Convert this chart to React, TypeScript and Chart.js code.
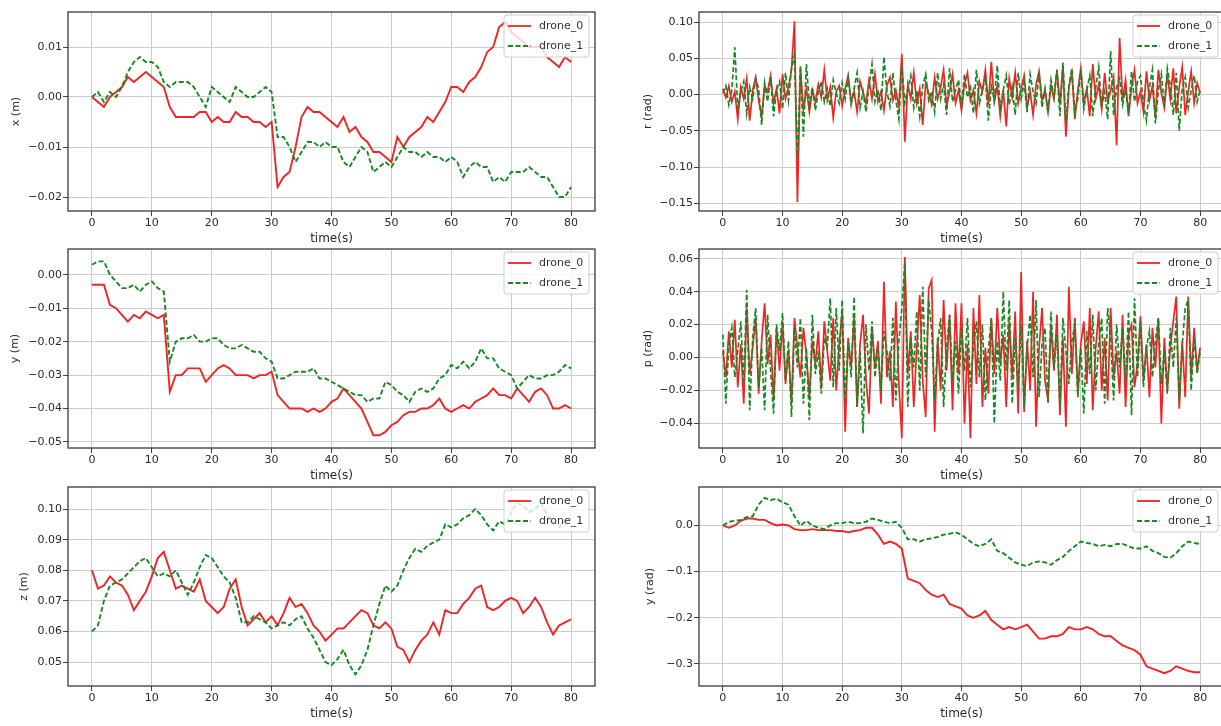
import React, { useEffect, useRef } from 'react';
import { Chart, registerables } from 'chart.js';
Chart.register(...registerables);
Chart.defaults.font.family = '"DejaVu Sans", sans-serif';

// ---------- categories / ticks ----------
const T1 = [0,1,2,3,4,5,6,7,8,9,10,11,12,13,14,15,16,17,18,19,20,21,22,23,24,25,26,27,28,29,30,31,32,33,34,35,36,37,38,39,40,41,42,43,44,45,46,47,48,49,50,51,52,53,54,55,56,57,58,59,60,61,62,63,64,65,66,67,68,69,70,71,72,73,74,75,76,77,78,79,80];
const T05 = [0,0.5,1,1.5,2,2.5,3,3.5,4,4.5,5,5.5,6,6.5,7,7.5,8,8.5,9,9.5,10,10.5,11,11.5,12,12.5,13,13.5,14,14.5,15,15.5,16,16.5,17,17.5,18,18.5,19,19.5,20,20.5,21,21.5,22,22.5,23,23.5,24,24.5,25,25.5,26,26.5,27,27.5,28,28.5,29,29.5,30,30.5,31,31.5,32,32.5,33,33.5,34,34.5,35,35.5,36,36.5,37,37.5,38,38.5,39,39.5,40,40.5,41,41.5,42,42.5,43,43.5,44,44.5,45,45.5,46,46.5,47,47.5,48,48.5,49,49.5,50,50.5,51,51.5,52,52.5,53,53.5,54,54.5,55,55.5,56,56.5,57,57.5,58,58.5,59,59.5,60,60.5,61,61.5,62,62.5,63,63.5,64,64.5,65,65.5,66,66.5,67,67.5,68,68.5,69,69.5,70,70.5,71,71.5,72,72.5,73,73.5,74,74.5,75,75.5,76,76.5,77,77.5,78,78.5,79,79.5,80];
const SERIES_LABELS = ['drone_0', 'drone_1'];
const X_TITLE = 'time(s)';
const X_TICKS = [0, 10, 20, 30, 40, 50, 60, 70, 80];
const X_TICKS_Y = [0.01, 0.0, -0.01, -0.02];
const Y_TICKS_Y = [0.0, -0.01, -0.02, -0.03, -0.04, -0.05];
const Z_TICKS_Y = [0.05, 0.06, 0.07, 0.08, 0.09, 0.10];
const R_TICKS_Y = [0.10, 0.05, 0.0, -0.05, -0.10, -0.15];
const P_TICKS_Y = [0.06, 0.04, 0.02, 0.0, -0.02, -0.04];
const YAW_TICKS_Y = [0.0, -0.1, -0.2, -0.3];

// ---------- x (m) ----------
const X0 = [0.000,-0.001,-0.002,0.000,0.001,0.002,0.004,0.003,0.004,0.005,0.004,0.003,0.002,-0.002,-0.004,-0.004,-0.004,-0.004,-0.003,-0.003,-0.005,-0.004,-0.005,-0.005,-0.003,-0.004,-0.004,-0.005,-0.005,-0.006,-0.005,-0.018,-0.016,-0.015,-0.010,-0.004,-0.002,-0.003,-0.003,-0.004,-0.005,-0.006,-0.004,-0.007,-0.006,-0.008,-0.009,-0.011,-0.011,-0.012,-0.013,-0.008,-0.010,-0.008,-0.007,-0.006,-0.004,-0.005,-0.003,-0.001,0.002,0.002,0.001,0.003,0.004,0.006,0.009,0.010,0.014,0.015,0.013,0.012,0.011,0.010,0.010,0.010,0.008,0.007,0.006,0.008,0.007];
const X1 = [0.000,0.001,-0.001,0.001,0.000,0.002,0.005,0.007,0.008,0.007,0.007,0.006,0.003,0.002,0.003,0.003,0.003,0.002,0.000,-0.002,0.002,0.001,0.000,-0.001,0.002,0.001,0.000,0.000,0.001,0.002,0.001,-0.008,-0.008,-0.010,-0.013,-0.011,-0.009,-0.009,-0.010,-0.009,-0.010,-0.010,-0.013,-0.014,-0.012,-0.010,-0.011,-0.015,-0.014,-0.013,-0.014,-0.012,-0.010,-0.011,-0.011,-0.012,-0.011,-0.012,-0.012,-0.013,-0.012,-0.013,-0.016,-0.014,-0.013,-0.014,-0.014,-0.017,-0.016,-0.017,-0.015,-0.015,-0.015,-0.014,-0.015,-0.016,-0.016,-0.018,-0.020,-0.020,-0.018];

// ---------- y (m) ----------
const Y0 = [-0.003,-0.003,-0.003,-0.009,-0.010,-0.012,-0.014,-0.012,-0.013,-0.011,-0.012,-0.013,-0.012,-0.035,-0.030,-0.030,-0.028,-0.028,-0.028,-0.032,-0.030,-0.028,-0.027,-0.028,-0.030,-0.030,-0.030,-0.031,-0.030,-0.030,-0.029,-0.036,-0.038,-0.040,-0.040,-0.040,-0.041,-0.040,-0.041,-0.040,-0.038,-0.037,-0.034,-0.036,-0.038,-0.040,-0.044,-0.048,-0.048,-0.047,-0.045,-0.044,-0.042,-0.041,-0.041,-0.040,-0.040,-0.039,-0.037,-0.040,-0.041,-0.040,-0.039,-0.040,-0.038,-0.037,-0.036,-0.034,-0.036,-0.036,-0.037,-0.034,-0.036,-0.038,-0.035,-0.034,-0.036,-0.040,-0.040,-0.039,-0.040];
const Y1 = [0.003,0.004,0.004,0.000,-0.002,-0.004,-0.004,-0.003,-0.005,-0.003,-0.002,-0.004,-0.005,-0.026,-0.020,-0.019,-0.019,-0.018,-0.020,-0.020,-0.019,-0.019,-0.021,-0.022,-0.022,-0.021,-0.022,-0.023,-0.023,-0.025,-0.026,-0.031,-0.031,-0.030,-0.029,-0.029,-0.029,-0.028,-0.031,-0.031,-0.032,-0.033,-0.034,-0.035,-0.036,-0.036,-0.038,-0.037,-0.037,-0.032,-0.033,-0.035,-0.036,-0.038,-0.035,-0.034,-0.035,-0.034,-0.031,-0.030,-0.027,-0.028,-0.026,-0.028,-0.026,-0.022,-0.025,-0.025,-0.028,-0.029,-0.030,-0.034,-0.032,-0.030,-0.031,-0.031,-0.030,-0.030,-0.029,-0.027,-0.028];

// ---------- z (m) ----------
const Z0 = [0.080,0.074,0.075,0.078,0.076,0.075,0.072,0.067,0.070,0.073,0.078,0.084,0.086,0.080,0.074,0.075,0.074,0.073,0.077,0.070,0.068,0.066,0.068,0.074,0.077,0.068,0.062,0.064,0.066,0.063,0.065,0.062,0.066,0.071,0.068,0.069,0.066,0.062,0.060,0.057,0.059,0.061,0.061,0.063,0.065,0.067,0.066,0.062,0.061,0.063,0.061,0.055,0.054,0.050,0.054,0.057,0.059,0.063,0.059,0.067,0.066,0.066,0.069,0.071,0.074,0.075,0.068,0.067,0.068,0.070,0.071,0.070,0.066,0.068,0.071,0.068,0.063,0.059,0.062,0.063,0.064];
const Z1 = [0.060,0.062,0.070,0.075,0.076,0.077,0.079,0.081,0.083,0.084,0.081,0.078,0.079,0.078,0.080,0.076,0.072,0.076,0.081,0.085,0.084,0.081,0.078,0.076,0.071,0.063,0.063,0.065,0.064,0.063,0.061,0.062,0.063,0.062,0.064,0.065,0.061,0.058,0.054,0.050,0.049,0.051,0.054,0.049,0.046,0.049,0.054,0.062,0.069,0.075,0.073,0.075,0.080,0.084,0.087,0.086,0.088,0.089,0.090,0.095,0.094,0.095,0.097,0.098,0.100,0.098,0.095,0.093,0.096,0.095,0.099,0.102,0.101,0.099,0.100,0.102,0.098,0.096,0.094,0.096,0.097];

// ---------- r (rad) ----------
const R0 = [0.008,-0.004,0.012,-0.010,0.004,-0.034,0.010,-0.006,0.022,-0.036,
0.006,0.024,-0.008,-0.030,0.012,0.004,0.026,-0.012,0.008,-0.026,
0.028,-0.006,0.010,0.034,0.101,-0.148,0.036,-0.020,0.008,-0.024,
0.006,-0.010,0.014,-0.004,0.034,-0.008,0.010,-0.032,0.004,0.012,
-0.016,0.008,0.026,-0.010,0.004,-0.024,0.018,0.002,-0.012,0.020,
-0.006,0.028,-0.010,0.004,-0.022,0.012,0.024,-0.008,0.006,-0.018,
0.056,-0.065,0.014,-0.006,0.030,-0.012,0.008,-0.042,0.016,0.002,
-0.014,0.024,-0.006,0.010,0.034,-0.016,0.004,0.028,-0.012,0.006,
-0.022,0.014,0.030,-0.008,0.006,-0.026,0.018,0.004,0.034,-0.014,
0.045,-0.010,0.012,-0.030,0.006,-0.044,0.022,-0.004,0.030,-0.012,
0.008,0.026,-0.018,0.004,-0.028,0.014,0.032,-0.008,0.006,-0.024,
0.012,-0.006,0.034,-0.014,0.040,-0.058,0.010,0.030,-0.034,0.006,
0.036,-0.012,0.008,-0.030,0.042,-0.006,0.014,-0.020,0.030,-0.010,
0.006,0.024,-0.070,0.078,-0.008,0.020,-0.030,0.010,0.034,-0.012,
0.004,-0.024,0.032,-0.008,0.012,-0.030,0.034,0.002,-0.018,0.028,
-0.006,0.036,-0.026,0.010,0.038,-0.028,0.004,0.032,-0.012,0.016,
0.002];
const R1 = [0.002,0.012,-0.014,0.006,0.065,-0.020,0.004,0.018,-0.026,0.010,
-0.006,0.022,0.008,-0.042,0.016,-0.010,0.024,-0.030,0.006,0.018,
-0.020,0.030,-0.008,0.036,0.054,-0.090,0.040,-0.058,0.042,-0.014,
0.010,-0.022,0.004,0.018,-0.010,0.008,-0.016,0.020,0.002,-0.012,
0.016,-0.006,0.024,-0.014,0.008,0.030,-0.018,0.004,-0.024,0.012,
0.042,-0.010,0.006,-0.022,0.052,0.004,-0.016,0.030,-0.008,-0.034,
0.040,-0.012,0.008,0.026,-0.018,0.006,-0.030,0.012,0.028,-0.008,
0.004,-0.024,0.030,-0.006,0.014,-0.028,0.036,-0.010,0.006,0.020,
-0.016,0.028,-0.004,0.010,-0.026,0.034,-0.012,0.006,0.024,-0.036,
0.012,-0.008,0.040,-0.020,0.006,0.026,-0.014,0.010,-0.028,0.030,
-0.006,0.016,-0.024,0.028,0.004,-0.012,0.030,-0.018,0.008,-0.026,
0.020,-0.004,0.034,-0.030,0.044,-0.038,0.012,0.036,-0.024,-0.006,
0.034,-0.020,0.006,0.026,-0.030,0.010,0.038,-0.016,0.004,-0.034,
0.060,-0.028,0.010,0.022,-0.014,0.006,-0.026,0.032,-0.010,0.018,
0.026,-0.012,-0.036,0.010,0.034,-0.040,0.006,0.028,-0.016,0.036,
0.012,-0.028,0.030,-0.050,0.008,0.024,-0.018,0.006,0.026,-0.010,
0.006];

// ---------- p (rad) ----------
const P0 = [0.004,-0.012,0.016,-0.006,0.023,-0.018,0.008,-0.028,0.030,-0.010,
0.006,0.024,-0.022,0.010,0.033,-0.004,0.014,-0.026,0.018,-0.008,
0.022,-0.016,0.004,-0.028,0.024,0.006,-0.012,0.018,0.002,-0.024,
0.010,-0.004,0.016,-0.018,0.022,0.004,-0.014,0.024,-0.020,0.008,
0.028,-0.045,0.012,-0.006,0.024,-0.030,0.008,0.026,-0.014,-0.034,
0.018,-0.006,0.010,-0.028,0.046,-0.012,0.004,-0.030,0.034,-0.016,
-0.049,0.061,-0.010,0.016,-0.030,0.006,0.038,-0.014,-0.036,0.042,
0.047,-0.045,0.012,-0.020,0.035,-0.008,0.026,-0.032,0.033,-0.010,
0.033,-0.040,0.008,-0.049,0.030,-0.016,0.038,-0.030,0.006,-0.022,
0.024,-0.010,0.030,-0.004,0.014,-0.030,0.022,-0.012,0.028,-0.034,
0.052,-0.033,0.010,-0.020,0.040,-0.042,0.006,0.030,-0.014,-0.026,
0.020,-0.008,0.026,-0.035,0.012,-0.042,0.043,-0.010,0.024,-0.022,
0.008,0.022,-0.016,0.030,-0.032,0.006,0.028,-0.020,0.012,-0.026,
0.030,-0.012,0.004,-0.022,0.026,-0.030,0.014,0.020,-0.018,-0.004,
0.025,-0.014,0.008,-0.024,0.018,-0.006,0.024,-0.040,0.012,-0.020,
0.006,0.022,0.037,-0.031,0.010,-0.024,0.037,-0.012,0.018,-0.008,
0.006];
const P1 = [0.014,-0.028,0.008,0.018,-0.012,0.004,0.022,-0.016,0.041,-0.032,
0.012,0.030,-0.018,0.006,-0.032,0.026,-0.008,-0.034,0.020,0.004,
0.027,-0.014,0.010,-0.036,0.018,-0.006,0.024,-0.028,0.006,-0.038,
0.026,-0.010,0.004,-0.022,0.012,0.006,0.036,-0.018,0.030,-0.008,
0.035,-0.026,0.010,-0.012,0.037,-0.030,0.004,-0.046,0.020,-0.008,
0.022,-0.012,0.006,-0.020,0.016,0.004,-0.014,0.024,-0.026,0.010,
0.030,0.058,-0.030,0.012,-0.006,0.028,-0.020,0.043,-0.012,0.035,
0.016,-0.026,0.008,0.024,-0.030,0.006,0.026,-0.014,0.010,-0.022,
0.018,-0.008,0.024,-0.018,0.006,0.022,-0.012,0.020,-0.026,0.004,
0.024,-0.040,0.010,-0.014,0.040,-0.008,0.035,-0.028,0.012,-0.018,
0.020,-0.030,0.006,0.026,-0.012,0.035,-0.024,0.008,0.018,-0.028,
0.028,-0.006,0.014,-0.030,0.024,0.004,-0.016,0.010,0.020,-0.024,
0.006,-0.034,0.016,-0.010,0.026,-0.020,0.008,0.024,-0.028,0.030,
0.012,-0.026,0.020,-0.006,0.018,-0.014,0.028,-0.035,0.036,-0.012,
0.022,-0.018,0.006,0.016,-0.012,0.010,0.024,-0.016,0.004,-0.022,
0.018,-0.006,0.024,-0.026,0.008,0.030,0.035,-0.020,0.012,-0.010,
0.004];

// ---------- y (rad) ----------
const W0 = [0.000,-0.005,0.000,0.010,0.015,0.015,0.012,0.012,0.005,0.000,0.002,0.000,-0.008,-0.010,-0.010,-0.008,-0.010,-0.010,-0.010,-0.012,-0.012,-0.015,-0.012,-0.010,-0.005,-0.005,-0.020,-0.040,-0.035,-0.040,-0.050,-0.115,-0.120,-0.125,-0.140,-0.150,-0.155,-0.150,-0.170,-0.175,-0.180,-0.195,-0.200,-0.195,-0.185,-0.205,-0.215,-0.225,-0.220,-0.225,-0.220,-0.215,-0.230,-0.245,-0.245,-0.240,-0.240,-0.235,-0.220,-0.225,-0.225,-0.220,-0.225,-0.235,-0.240,-0.240,-0.250,-0.260,-0.265,-0.270,-0.280,-0.305,-0.310,-0.315,-0.320,-0.315,-0.305,-0.310,-0.315,-0.318,-0.318];
const W1 = [0.000,0.008,0.010,0.012,0.018,0.020,0.045,0.060,0.055,0.058,0.050,0.045,0.020,0.000,0.010,0.000,-0.005,-0.008,0.000,0.005,0.005,0.008,0.005,0.005,0.008,0.015,0.012,0.008,0.005,0.008,-0.005,-0.030,-0.030,-0.035,-0.030,-0.028,-0.025,-0.020,-0.018,-0.015,-0.020,-0.030,-0.040,-0.045,-0.040,-0.030,-0.055,-0.060,-0.070,-0.080,-0.085,-0.088,-0.080,-0.078,-0.080,-0.085,-0.075,-0.068,-0.055,-0.045,-0.035,-0.038,-0.040,-0.045,-0.042,-0.045,-0.040,-0.040,-0.045,-0.050,-0.050,-0.045,-0.055,-0.060,-0.068,-0.070,-0.060,-0.045,-0.035,-0.038,-0.040];

// ---------- layout (positions only) ----------
type Spec = {
  key: string; canvasLeft: number; plotLeft: number; plotRight: number; plotTop: number; plotBottom: number;
  yTitle: string; yMin: number; yMax: number; yTicks: number[]; decimals: number;
  t: number[]; s0: number[]; s1: number[]; lw: number;
};

const LEFT = { plotLeft: 68, plotRight: 595 };
const RIGHT = { plotLeft: 699, plotRight: 1224 };
const ROWS = [{ plotTop: 12, plotBottom: 211 }, { plotTop: 249, plotBottom: 448 }, { plotTop: 487, plotBottom: 686 }];

const PANELS: Spec[] = [
  { key: 'x', canvasLeft: 10, ...LEFT, ...ROWS[0], yTitle: 'x (m)', yMin: -0.0228, yMax: 0.0170, yTicks: X_TICKS_Y, decimals: 2, t: T1, s0: X0, s1: X1, lw: 1.9 },
  { key: 'y', canvasLeft: 9, ...LEFT, ...ROWS[1], yTitle: 'y (m)', yMin: -0.0518, yMax: 0.0077, yTicks: Y_TICKS_Y, decimals: 2, t: T1, s0: Y0, s1: Y1, lw: 1.9 },
  { key: 'z', canvasLeft: 18, ...LEFT, ...ROWS[2], yTitle: 'z (m)', yMin: 0.0422, yMax: 0.1072, yTicks: Z_TICKS_Y, decimals: 2, t: T1, s0: Z0, s1: Z1, lw: 1.9 },
  { key: 'r', canvasLeft: 642, ...RIGHT, ...ROWS[0], yTitle: 'r (rad)', yMin: -0.1606, yMax: 0.1138, yTicks: R_TICKS_Y, decimals: 2, t: T05, s0: R0, s1: R1, lw: 1.7 },
  { key: 'p', canvasLeft: 642, ...RIGHT, ...ROWS[1], yTitle: 'p (rad)', yMin: -0.0549, yMax: 0.0659, yTicks: P_TICKS_Y, decimals: 2, t: T05, s0: P0, s1: P1, lw: 1.7 },
  { key: 'w', canvasLeft: 644, ...RIGHT, ...ROWS[2], yTitle: 'y (rad)', yMin: -0.3477, yMax: 0.0833, yTicks: YAW_TICKS_Y, decimals: 1, t: T1, s0: W0, s1: W1, lw: 1.9 },
];

const PAD_TOP = 10;
const PAD_RIGHT = 2;
const X_AXIS_H = 35;
const RED = '#f02424';
const GREEN = '#168a22';

const fmt = (v: number, d: number) => {
  const s = Math.abs(v) < 1e-12 ? (0).toFixed(d) : v.toFixed(d);
  return s.replace('-', '\u2212');
};

const framePlugin = {
  id: 'frame',
  afterDraw(chart: any) {
    const { ctx, chartArea: a } = chart;
    ctx.save();
    ctx.strokeStyle = '#3a3a3a';
    ctx.lineWidth = 1.3;
    ctx.strokeRect(a.left, a.top, a.right - a.left, a.bottom - a.top);
    ctx.restore();
  },
};

const legendPlugin = {
  id: 'innerLegend',
  afterDatasetsDraw(chart: any) {
    const { ctx, chartArea: a } = chart;
    const w = 85, h = 42;
    const x = a.right - 6 - w, y = a.top + 3;
    ctx.save();
    ctx.beginPath();
    if (ctx.roundRect) ctx.roundRect(x, y, w, h, 3); else ctx.rect(x, y, w, h);
    ctx.fillStyle = 'rgba(255,255,255,0.8)';
    ctx.fill();
    ctx.strokeStyle = '#cfcfcf';
    ctx.lineWidth = 1;
    ctx.stroke();
    chart.data.datasets.forEach((ds: any, i: number) => {
      const cy = y + 11 + i * 20;
      ctx.beginPath();
      ctx.setLineDash(ds.borderDash || []);
      ctx.strokeStyle = ds.borderColor;
      ctx.lineWidth = 1.8;
      ctx.moveTo(x + 4, cy);
      ctx.lineTo(x + 27, cy);
      ctx.stroke();
      ctx.setLineDash([]);
      ctx.fillStyle = '#333';
      ctx.font = '11px "DejaVu Sans"';
      ctx.textBaseline = 'middle';
      ctx.textAlign = 'left';
      ctx.fillText(ds.label, x + 35, cy);
    });
    ctx.restore();
  },
};

function Panel({ spec }: { spec: Spec }) {
  const ref = useRef<HTMLCanvasElement | null>(null);
  const width = spec.plotRight + PAD_RIGHT - spec.canvasLeft;
  const height = PAD_TOP + (spec.plotBottom - spec.plotTop) + X_AXIS_H;
  useEffect(() => {
    if (!ref.current) return;
    const yAxisW = spec.plotLeft - spec.canvasLeft;
    const chart = new Chart(ref.current, {
      type: 'line',
      data: {
        datasets: [
          {
            label: SERIES_LABELS[0],
            data: spec.t.map((t, i) => ({ x: t, y: spec.s0[i] })),
            borderColor: RED, borderWidth: spec.lw, pointRadius: 0, tension: 0, order: 1,
          },
          {
            label: SERIES_LABELS[1],
            data: spec.t.map((t, i) => ({ x: t, y: spec.s1[i] })),
            borderColor: GREEN, borderWidth: spec.lw, borderDash: [5, 2.5], pointRadius: 0, tension: 0, order: 0,
          },
        ],
      },
      options: {
        animation: false,
        responsive: false,
        devicePixelRatio: 1,
        layout: { padding: { top: PAD_TOP, right: PAD_RIGHT, left: 0, bottom: 0 } },
        plugins: { legend: { display: false }, tooltip: { enabled: false } },
        scales: {
          x: {
            type: 'linear', min: -4, max: 84,
            afterBuildTicks: (s: any) => { s.ticks = X_TICKS.map((v) => ({ value: v })); },
            afterFit: (s: any) => { s.height = X_AXIS_H; },
            ticks: { callback: (v: any) => String(v), color: '#2a2a2a', font: { size: 11 }, padding: 1, maxRotation: 0, autoSkip: false },
            grid: { color: '#cccccc', lineWidth: 1, tickColor: '#444', tickLength: 5, drawTicks: true },
            border: { display: false },
            title: { display: true, text: X_TITLE, color: '#2a2a2a', font: { size: 12 }, padding: 0 },
          },
          y: {
            type: 'linear', min: spec.yMin, max: spec.yMax,
            afterBuildTicks: (s: any) => { s.ticks = spec.yTicks.map((v) => ({ value: v })); },
            afterFit: (s: any) => { s.width = yAxisW; },
            ticks: { callback: (v: any) => fmt(Number(v), spec.decimals), color: '#2a2a2a', font: { size: 11 }, padding: 1, autoSkip: false },
            grid: { color: '#cccccc', lineWidth: 1, tickColor: '#444', tickLength: 5, drawTicks: true },
            border: { display: false },
            title: { display: true, text: spec.yTitle, color: '#2a2a2a', font: { size: 11 }, padding: 0 },
          },
        },
      },
      plugins: [legendPlugin, framePlugin],
    } as any);
    return () => chart.destroy();
  }, [spec]);
  return (
    <canvas
      ref={ref}
      width={width}
      height={height}
      style={{ position: 'absolute', left: spec.canvasLeft, top: spec.plotTop - PAD_TOP, width, height }}
    />
  );
}

export default function App() {
  return (
    <div style={{ position: 'absolute', left: 0, top: 0, width: 1221, height: 726, overflow: 'hidden', background: '#fff' }}>
      {PANELS.map((p) => (
        <Panel key={p.key} spec={p} />
      ))}
    </div>
  );
}
